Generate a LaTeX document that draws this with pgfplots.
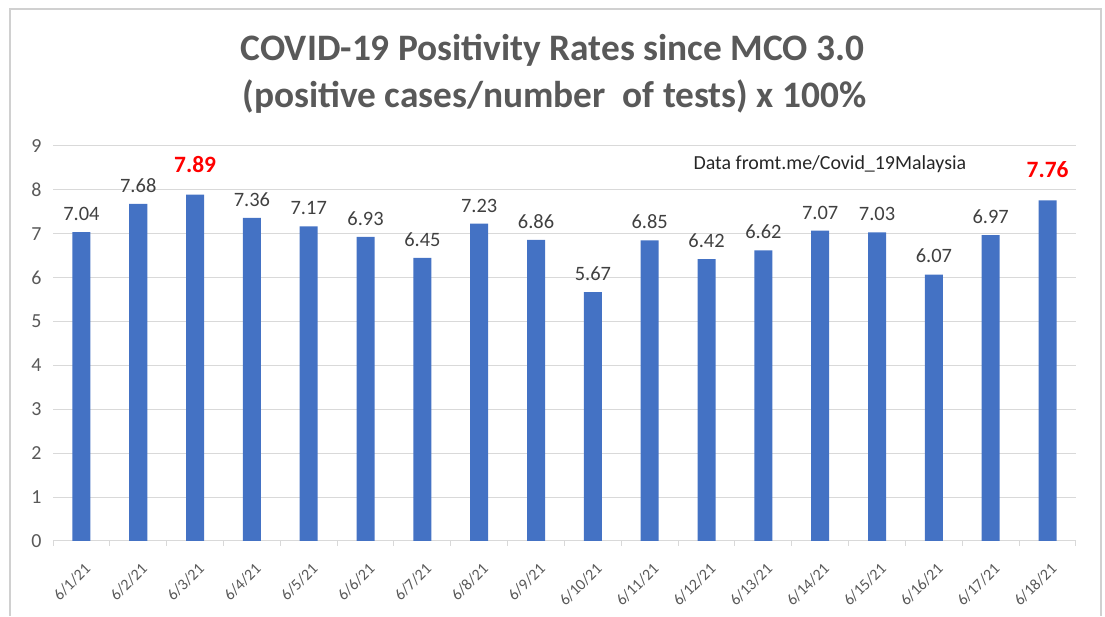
\documentclass[border=0pt]{standalone}
\usepackage{pgfplots}
\pgfplotsset{compat=1.18}
\usepackage{fontspec}
\setmainfont{Carlito}
\definecolor{barblue}{HTML}{4472C4}
\definecolor{txtgray}{HTML}{595959}
\definecolor{lblgray}{HTML}{404040}
\definecolor{gridgray}{HTML}{D9D9D9}
\definecolor{framegray}{HTML}{D0D0D0}
\begin{document}
\begin{tikzpicture}[x=1bp,y=1bp]
\path (0,0) rectangle (1105,616);
\draw[framegray,line width=1.2bp] (10,0) -- (10,607) -- (1101,607) -- (1101,0);
\node[font=\fontsize{37.5}{42}\selectfont\bfseries,text=txtgray] at (552.5,566) {COVID-19 Positivity Rates since MCO 3.0};
\node[font=\fontsize{37.5}{42}\selectfont\bfseries,text=txtgray] at (554.5,519) {(positive cases/number\ \ of tests) x 100\%};
\begin{axis}[
  at={(53bp,75bp)}, anchor=south west,
  scale only axis, width=1023bp, height=395bp,
  xmin=-0.5, xmax=17.5, ymin=0, ymax=9,
  ytick={0,1,...,9},
  xtick={0,...,17},
  xticklabels={6/1/21,6/2/21,6/3/21,6/4/21,6/5/21,6/6/21,6/7/21,6/8/21,6/9/21,6/10/21,6/11/21,6/12/21,6/13/21,6/14/21,6/15/21,6/16/21,6/17/21,6/18/21},
  minor xtick={-0.5,0.5,...,17.5},
  major x tick style={draw=none},
  minor x tick style={draw=gridgray, line width=1bp},
  minor tick length=5bp,
  xtick pos=bottom, ytick pos=left,
  major y tick style={draw=none},
  ymajorgrids, grid style={gridgray, line width=1bp},
  axis x line*=bottom, axis y line*=left,
  x axis line style={gridgray, line width=1bp, -},
  y axis line style={draw=none},
  /pgf/number format/assume math mode=true,
  yticklabel style={font=\fontsize{20}{24}\selectfont, text=txtgray, xshift=-8bp},
  xticklabel style={font=\fontsize{16}{18}\selectfont, text=txtgray, rotate=45, anchor=north east, inner sep=1bp, xshift=-9bp, yshift=-12bp},
  ybar, bar width=18bp, bar shift=0pt,
  nodes near coords,
  nodes near coords style={font=\fontsize{20.5}{24}\selectfont, text=lblgray, yshift=8bp},
  every node near coord/.append style={/pgf/number format/fixed, /pgf/number format/fixed zerofill, /pgf/number format/precision=2},
  clip=false,
]
\addplot[fill=barblue, draw=none] coordinates {
(0,7.04) (1,7.68) (3,7.36) (4,7.17) (5,6.93) (6,6.45) (7,7.23) (8,6.86)
(9,5.67) (10,6.85) (11,6.42) (12,6.62) (13,7.07) (14,7.03) (15,6.07) (16,6.97)};
\addplot[fill=barblue, draw=none, nodes near coords style={font=\fontsize{23.5}{28}\selectfont\bfseries, text=red, yshift=11bp}] coordinates {
(2,7.89) (17,7.76)};
\node[font=\fontsize{20}{24}\selectfont, text=black!85] at (axis cs:13.17,8.59) {Data fromt.me/Covid\_19Malaysia};
\end{axis}
\end{tikzpicture}
\end{document}
